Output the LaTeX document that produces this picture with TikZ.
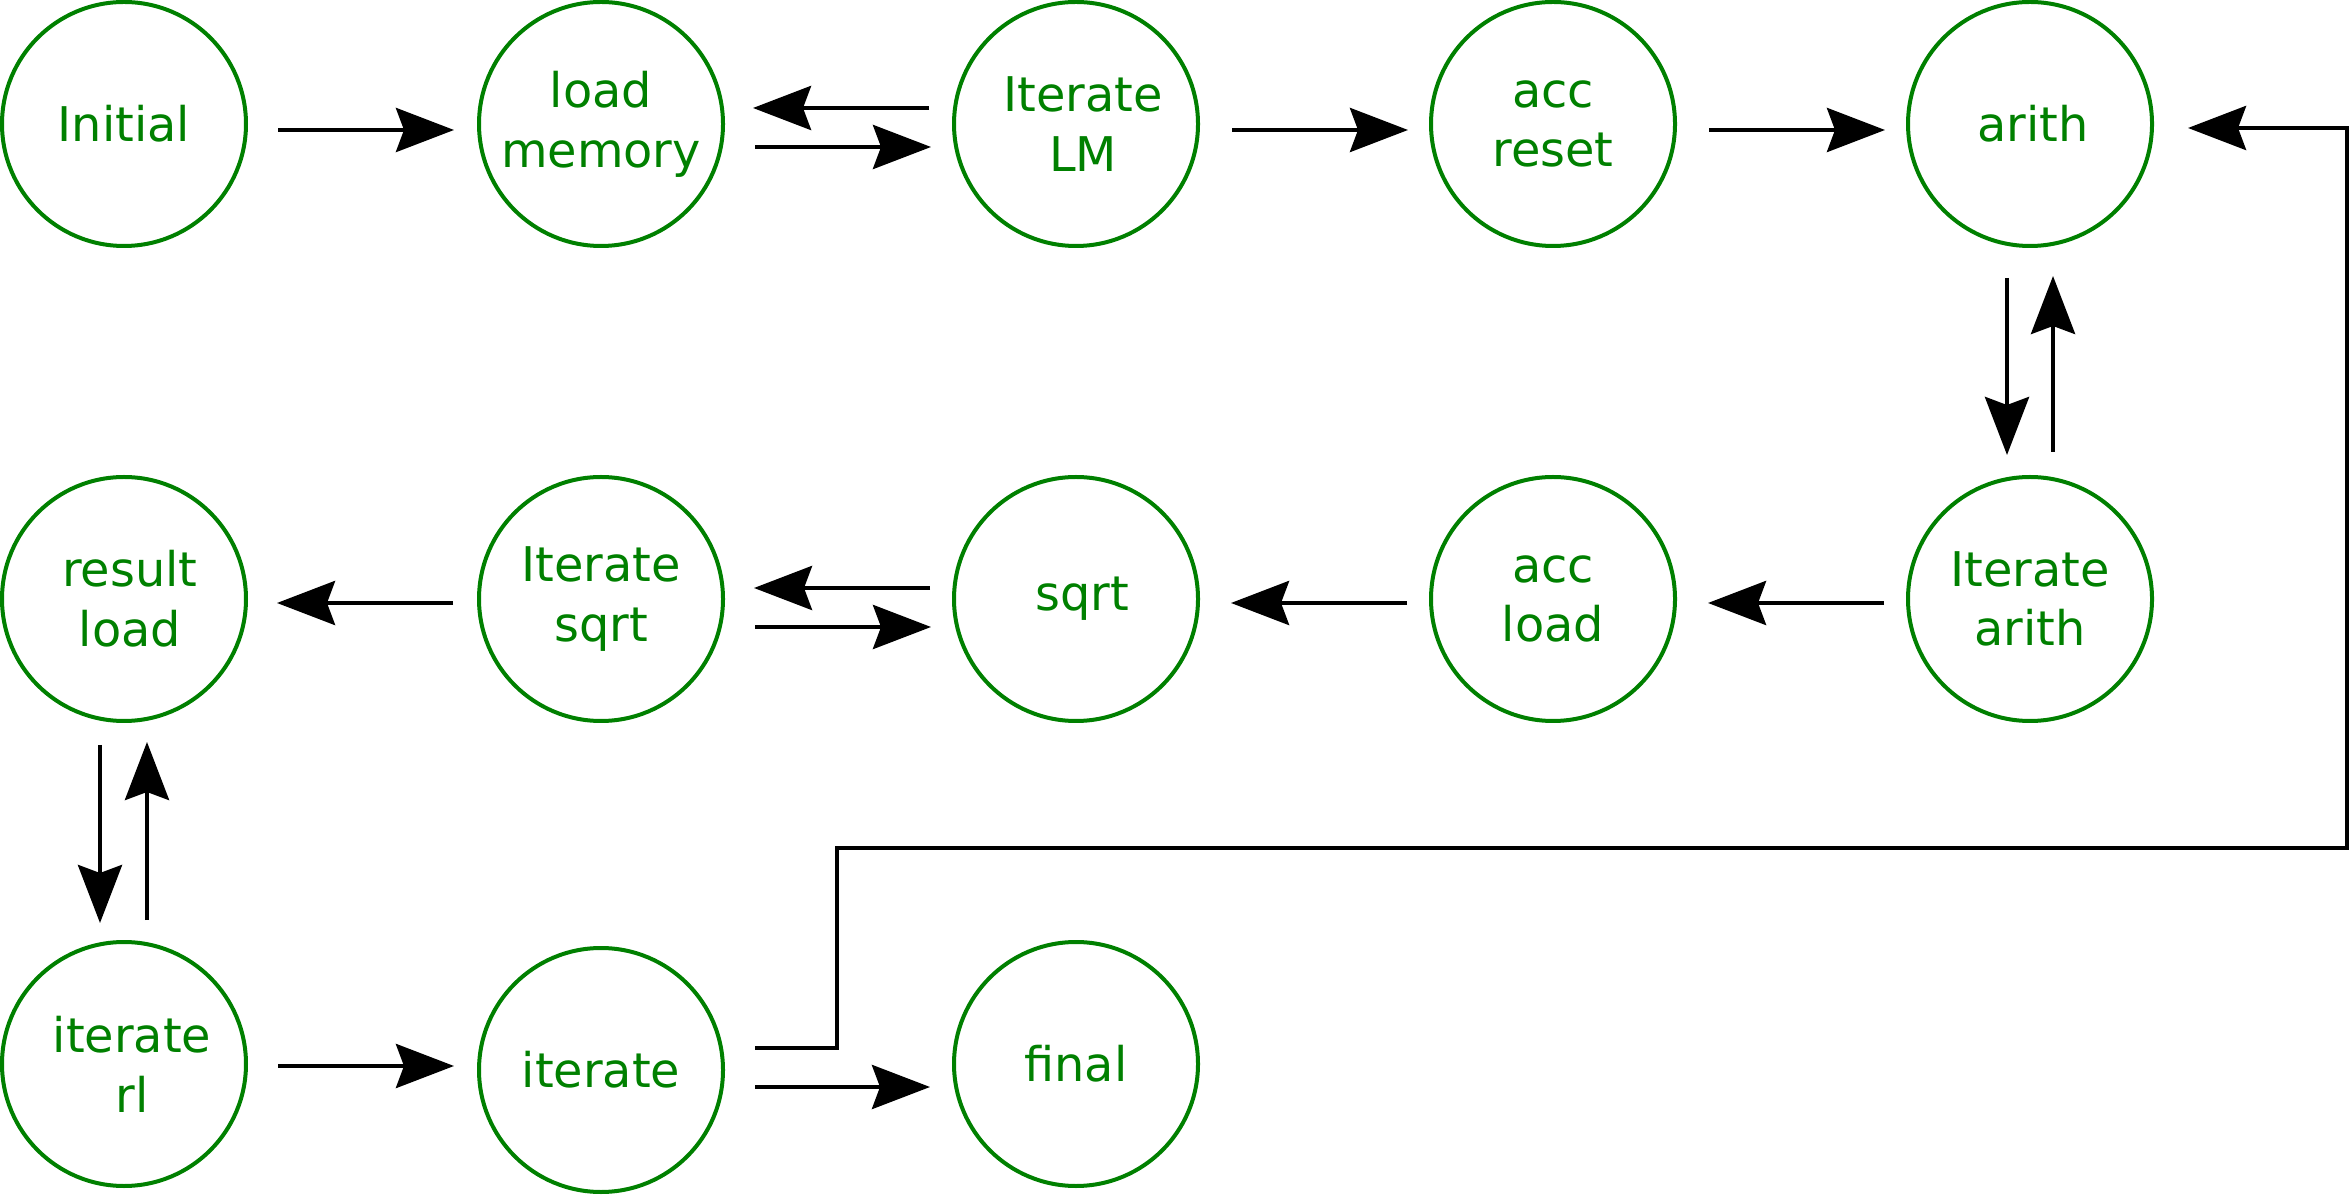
\documentclass[tikz,border=0pt]{standalone}
\usepackage{fontspec}
\setmainfont{DejaVu Sans}
\usepackage{xcolor}
\usepackage{tikz}
\usetikzlibrary{calc, arrows.meta}

\definecolor{stategreen}{RGB}{0,128,0}

\tikzset{
	state/.style = {circle, draw = stategreen, line width = 0.4mm, minimum size = 24.4mm, inner sep = 0pt,
		text = stategreen, align = center, font = \fontsize{13.6}{17}\selectfont},
	arr/.style = {draw, line width = 0.45mm, -{Stealth[length = 5.8mm, width = 4.4mm, inset = 0.8mm]}}
}

\begin{document}
\begin{tikzpicture}[x = 0.1mm, y = -0.1mm]
		\useasboundingbox (0,0) rectangle (2351,1195);
		
		%states, first row
		\node [state] (init) at (124,124) {Initial};
		\node [state] (load) at (601,124) {load\\memory};
		\node [state] (iterLM) at (1076,124) {\hspace*{1.4mm}Iterate\\\hspace*{1.4mm}LM};
		\node [state] (accR) at (1553,124) {acc\\reset};
		\node [state] (arith) at (2030,124) {\hspace*{0.6mm}arith};
		
		%states, second row
		\node [state] (res) at (124,599) {\hspace*{1.2mm}result\\\hspace*{1.2mm}load};
		\node [state] (iterS) at (601,599) {Iterate\\sqrt};
		\node [state] (sqrt) at (1076,599) {\hspace*{1.2mm}sqrt};
		\node [state] (accL) at (1553,599) {acc\\load};
		\node [state] (iterA) at (2030,599) {Iterate\\arith};
		
		%states, third row
		\node [state] (iterRL) at (124,1064) {\hspace*{1.6mm}iterate\\\hspace*{1.6mm}rl};
		\node [state] (iter) at (601,1070) {iterate};
		\node [state] (final) at (1076,1064) {final};
		
		%transitions, first row
		\draw [arr] ($ (init.east) + (30,6) $) -- ($ (load.west) + (-23,6) $);
		\draw [arr] ($ (iterLM.west) + (-23,-16) $) -- ($ (load.east) + (28,-16) $);
		\draw [arr] ($ (load.east) + (30,23) $) -- ($ (iterLM.west) + (-21,23) $);
		\draw [arr] ($ (iterLM.east) + (32,6) $) -- ($ (accR.west) + (-21,6) $);
		\draw [arr] ($ (accR.east) + (32,6) $) -- ($ (arith.west) + (-21,6) $);
		
		\draw [arr] ($ (arith.south) + (-23,30) $) -- ($ (iterA.north) + (-23,-20) $);
		\draw [arr] ($ (iterA.north) + (23,-23) $) -- ($ (arith.south) + (23,28) $);
		
		%transitions, second row
		\draw [arr] ($ (iterA.west) + (-22,4) $) -- ($ (accL.east) + (31,4) $);
		\draw [arr] ($ (accL.west) + (-22,4) $) -- ($ (sqrt.east) + (31,4) $);
		\draw [arr] ($ (sqrt.west) + (-22,-11) $) -- ($ (iterS.east) + (29,-11) $);
		\draw [arr] ($ (iterS.east) + (30,28) $) -- ($ (sqrt.west) + (-21,28) $);
		\draw [arr] ($ (iterS.west) + (-24,4) $) -- ($ (res.east) + (29,4) $);
		
		\draw [arr] ($ (res.south) + (-24,22) $) -- ($ (iterRL.north) + (-24,-17) $);
		\draw [arr] ($ (iterRL.north) + (23,-20) $) -- ($ (res.south) + (23,19) $);
		
		%transitions, third row
		\draw [arr] ($ (iterRL.east) + (30,2) $) -- ($ (iter.west) + (-23,-4) $);
		\draw [arr] ($ (iter.east) + (30,17) $) -- ($ (final.west) + (-22,23) $);
		
		%loop back to arith
		\coordinate (loop low) at (837,848);
		\coordinate (loop high) at (2347,128);
		\draw [arr] ($ (iter.east) + (30,-22) $) -| (loop low) -| (loop high) -- ($ (arith.east) + (34,4) $);
	\end{tikzpicture}
\end{document}
